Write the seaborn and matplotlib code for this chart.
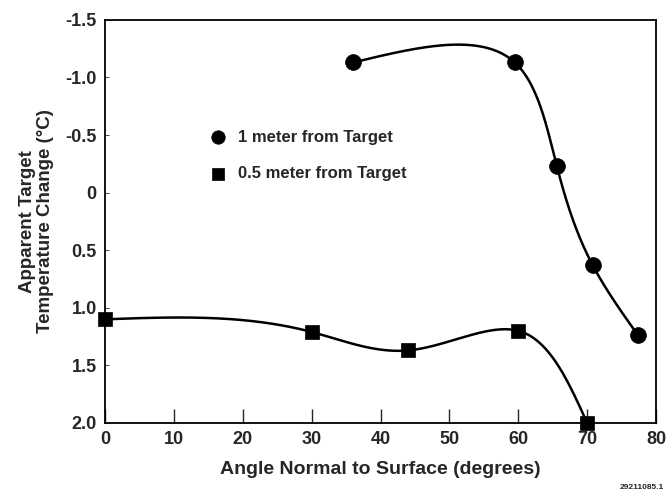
import numpy as np
import seaborn as sns
import matplotlib.pyplot as plt

# readings
angle_1m = [36, 59.5, 65.6, 70.8, 77.4]
temp_1m = [-1.13, -1.13, -0.23, 0.63, 1.24]
angle_05m = [0, 30, 44, 60, 70]
temp_05m = [1.10, 1.21, 1.37, 1.20, 2.0]

xticks = [0, 10, 20, 30, 40, 50, 60, 70, 80]
yticks = [-1.5, -1.0, -0.5, 0, 0.5, 1.0, 1.5, 2.0]
ytick_labels = ['-1.5', '-1.0', '-0.5', '0', '0.5', '1.0', '1.5', '2.0']

lab_1m = '1 meter from Target'
lab_05m = '0.5 meter from Target'


def natural_spline(t, y, tt):
    # natural cubic spline through (t, y), evaluated at tt
    n = len(t)
    h = np.diff(t)
    A = np.zeros((n, n))
    b = np.zeros(n)
    A[0, 0] = A[-1, -1] = 1
    for i in range(1, n - 1):
        A[i, i - 1] = h[i - 1]
        A[i, i] = 2 * (h[i - 1] + h[i])
        A[i, i + 1] = h[i]
        b[i] = 6 * ((y[i + 1] - y[i]) / h[i] - (y[i] - y[i - 1]) / h[i - 1])
    M = np.linalg.solve(A, b)
    out = np.empty_like(tt)
    for k, v in enumerate(tt):
        i = min(max(np.searchsorted(t, v, side='right') - 1, 0), n - 2)
        a, c = t[i], t[i + 1]
        hi = c - a
        out[k] = (M[i] * (c - v) ** 3 / (6 * hi) + M[i + 1] * (v - a) ** 3 / (6 * hi)
                  + (y[i] / hi - M[i] * hi / 6) * (c - v)
                  + (y[i + 1] / hi - M[i + 1] * hi / 6) * (v - a))
    return out


def smooth(xs, ys, n=300):
    # parametric spline on chord length, scaled roughly like the plot area
    u = np.asarray(xs, float) / 80 * 551
    v = np.asarray(ys, float) / 3.5 * 403
    t = np.concatenate([[0], np.cumsum(np.hypot(np.diff(u), np.diff(v)))])
    tt = np.linspace(0, t[-1], n)
    return natural_spline(t, u, tt) * 80 / 551, natural_spline(t, v, tt) * 3.5 / 403


sns.set_style("ticks")
plt.rcParams['font.family'] = ['Liberation Sans', 'DejaVu Sans']
plt.rcParams['font.weight'] = 'bold'

fig = plt.figure(figsize=(6.69, 4.97), dpi=100)
ax = fig.add_axes([0.157, 0.149, 0.8236, 0.811])

sx, sy = smooth(angle_1m, temp_1m)
sns.lineplot(x=sx, y=sy, sort=False, estimator=None, color='black', lw=1.8, ax=ax)
sx, sy = smooth(angle_05m, temp_05m)
sns.lineplot(x=sx, y=sy, sort=False, estimator=None, color='black', lw=1.8, ax=ax)

sns.scatterplot(x=angle_1m, y=temp_1m, marker='o', s=130, color='black',
                edgecolor='black', linewidth=0.5, clip_on=False, zorder=5,
                label=lab_1m, ax=ax)
sns.scatterplot(x=angle_05m, y=temp_05m, marker='s', s=100, color='black',
                edgecolor='black', linewidth=0.5, clip_on=False, zorder=5,
                label=lab_05m, ax=ax)

ax.set_xlim(0, 80)
ax.set_ylim(2.0, -1.5)
ax.set_xticks(xticks)
ax.set_yticks(yticks)
ax.set_yticklabels(ytick_labels)
ax.tick_params(axis='x', direction='in', length=10, width=1, labelsize=13, pad=6)
ax.tick_params(axis='y', direction='in', length=3, width=0.6, labelsize=13, pad=6)
for lbl in ax.get_xticklabels() + ax.get_yticklabels():
    lbl.set_fontweight('bold')
for s in ax.spines.values():
    s.set_visible(True)
    s.set_linewidth(1.3)
    s.set_color('black')

ax.set_xlabel('Angle Normal to Surface (degrees)', fontsize=14, fontweight='bold', labelpad=9)
ax.set_ylabel('Apparent Target\nTemperature Change (°C)', fontsize=13.5,
              fontweight='bold', labelpad=8, linespacing=1.1)

leg = ax.legend(loc='upper left', bbox_to_anchor=(0.189, 0.728), frameon=False,
                fontsize=12, handletextpad=0.7, handlelength=1.0, labelspacing=1.3,
                borderpad=0, borderaxespad=0, markerscale=0.85)
for txt in leg.get_texts():
    txt.set_fontweight('bold')

fig.text(0.993, 0.012, '29211085.1', ha='right', va='bottom', fontsize=6, fontweight='bold')

fig.savefig('out.png', dpi=100, facecolor='white')
